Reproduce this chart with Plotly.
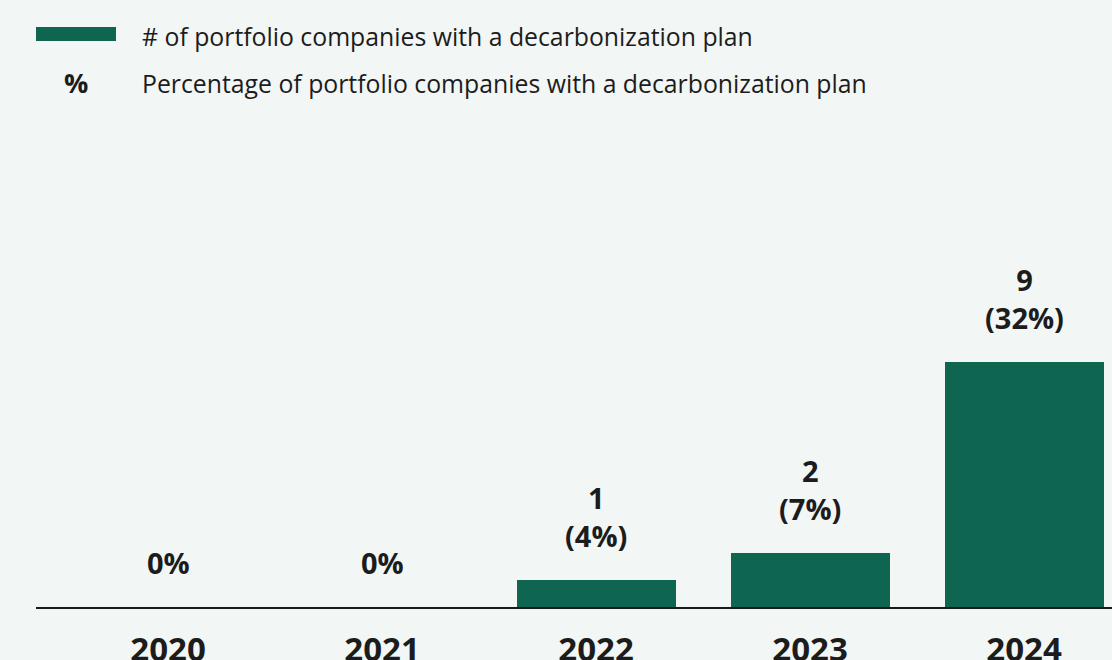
import plotly.graph_objects as go

# Portfolio companies with a decarbonization plan, by year
years = ["2020", "2021", "2022", "2023", "2024"]
counts = [0, 0, 1, 2, 9]
percents = [0, 0, 4, 7, 32]

legend_count_label = "# of portfolio companies with a decarbonization plan"
legend_pct_label = "Percentage of portfolio companies with a decarbonization plan"

BAR_COLOR = "#0e6650"
BG_COLOR = "#f2f6f5"
TEXT_COLOR = "#1c1c1c"
FONT = "'Open Sans', sans-serif"

# Plot box geometry (pixels) used for placing the legend in paper space
W, H = 1112, 660
ML, MR, MT, MB = 36, 0, 110, 53
PW, PH = W - ML - MR, H - MT - MB


def px_x(px):
    return (px - ML) / PW


def px_y(py):
    return (H - MB - py) / PH


x_idx = list(range(len(years)))

fig = go.Figure()
fig.add_trace(go.Bar(
    x=x_idx,
    y=counts,
    marker=dict(color=BAR_COLOR, line=dict(width=0)),
    width=0.743,
    showlegend=False,
    hoverinfo="skip",
))

# Value labels above each bar: count and share, or just the share when zero
for i, (c, p) in enumerate(zip(counts, percents)):
    text = f"<b>{c}</b><br><b>({p}%)</b>" if c > 0 else f"<b>{p}%</b>"
    fig.add_annotation(
        x=i, y=c, xref="x", yref="y",
        text=text, showarrow=False,
        yanchor="bottom", yshift=23,
        font=dict(family=FONT, size=29, color=TEXT_COLOR),
        align="center",
    )

# Legend drawn in paper space
fig.add_shape(type="rect", xref="paper", yref="paper",
              x0=px_x(36), x1=px_x(116), y0=px_y(41), y1=px_y(27),
              fillcolor=BAR_COLOR, line=dict(width=0))
fig.add_annotation(xref="paper", yref="paper", x=px_x(140), y=px_y(36),
                   text=legend_count_label, showarrow=False, xanchor="left", yanchor="middle",
                   font=dict(family=FONT, size=24.8, color=TEXT_COLOR))
fig.add_annotation(xref="paper", yref="paper", x=px_x(76), y=px_y(83),
                   text="<b>%</b>", showarrow=False, xanchor="center", yanchor="middle",
                   font=dict(family=FONT, size=27, color=TEXT_COLOR))
fig.add_annotation(xref="paper", yref="paper", x=px_x(140), y=px_y(83),
                   text=legend_pct_label, showarrow=False, xanchor="left", yanchor="middle",
                   font=dict(family=FONT, size=24.8, color=TEXT_COLOR))

fig.update_layout(
    width=W, height=H,
    margin=dict(l=ML, r=MR, t=MT, b=MB),
    paper_bgcolor=BG_COLOR,
    plot_bgcolor=BG_COLOR,
    bargap=0,
    xaxis=dict(
        range=[-0.617, 4.411],
        tickmode="array",
        tickvals=x_idx,
        ticktext=[f"<b>{y}</b>" for y in years],
        tickfont=dict(family=FONT, size=33, color=TEXT_COLOR),
        showgrid=False, zeroline=False,
        showline=True, linecolor="#1a1a1a", linewidth=1.5,
        ticks="", ticklabelstandoff=13,
        automargin=False,
    ),
    yaxis=dict(
        range=[0, PH / 27.2],
        visible=False,
        showgrid=False, zeroline=False,
    ),
)

fig.write_html("out.html")
